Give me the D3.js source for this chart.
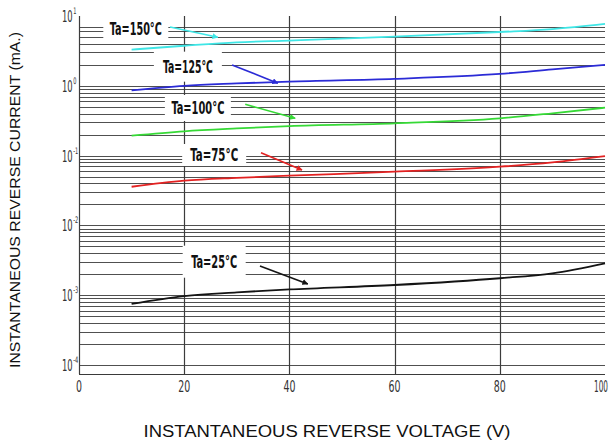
<!DOCTYPE html>
<html>
<head>
<meta charset="utf-8">
<script src="https://cdn.jsdelivr.net/npm/d3@7"></script>
<style>
  body { margin: 0; background: #fff; }
  svg { display: block; }
</style>
</head>
<body>
<div id="chart"></div>
<script>
"use strict";

// voltages where the curves were read (V)
var volts = [10, 20, 30, 40, 60, 80, 90, 100];

// reverse current in mA, one list per temperature
var ta150 = [3.3, 3.75, 4.2, 4.45, 5.05, 5.9, 6.5, 7.7];
var ta125 = [0.86, 1.0, 1.08, 1.15, 1.26, 1.48, 1.72, 1.99];
var ta100 = [0.193, 0.223, 0.245, 0.265, 0.29, 0.342, 0.404, 0.486];
var ta75  = [0.0358, 0.0437, 0.048, 0.0515, 0.0588, 0.0693, 0.080, 0.0986];
var ta25  = [0.00075, 0.00097, 0.0011, 0.00121, 0.0014, 0.00175, 0.00206, 0.00286];

var seriesNames  = ["Ta=150°C", "Ta=125°C", "Ta=100°C", "Ta=75°C", "Ta=25°C"];
var seriesColors = ["#3fe6e6", "#2b2bd6", "#36d936", "#e32222", "#141414"];

// label anchor (V, mA) and arrow from -> to (V, mA)
var labelAt   = [[10.8, 6.73], [20.7, 1.88], [22.6, 0.481], [25.7, 0.102], [25.7, 0.00302]];
var arrowFrom = [[17.3, 6.95], [29.1, 1.99], [31.6, 0.543], [34.6, 0.110], [34.4, 0.00262]];
var arrowTo   = [[26.4, 4.96], [37.8, 1.09], [41.1, 0.342], [42.4, 0.0622], [43.5, 0.00145]];

var xTicks = [0, 20, 40, 60, 80, 100];
var yDecades = [1, 0, -1, -2, -3, -4];

var width = 614, height = 445;

var x = d3.scaleLinear().domain([0, 100]).range([79, 605]);
var y = d3.scaleLog().domain([1e-4, 10]).range([365, 16]);

var svg = d3.select("#chart").append("svg")
  .attr("width", width)
  .attr("height", height);

// horizontal grid: 1..9 in each decade, top decade stops at 7
var hLines = [];
for (var e = -4; e <= 0; e++) {
  for (var k = 1; k <= 9; k++) {
    if (e === 0 && k > 7) continue;
    hLines.push(k * Math.pow(10, e));
  }
}

var grid = svg.append("g");
grid.selectAll("line.h")
  .data(hLines)
  .enter().append("line")
    .attr("x1", x(0)).attr("x2", x(100))
    .attr("y1", function(d) { return Math.round(y(d)) + 0.5; })
    .attr("y2", function(d) { return Math.round(y(d)) + 0.5; })
    .attr("stroke", "#505050")
    .attr("stroke-width", 1);

// bottom base line
grid.append("line")
  .attr("x1", x(0)).attr("x2", x(100))
  .attr("y1", 374.5).attr("y2", 374.5)
  .attr("stroke", "#3a3a3a");

grid.selectAll("line.v")
  .data(xTicks.slice(0, 5))
  .enter().append("line")
    .attr("x1", function(d) { return Math.round(x(d)) + 0.5; })
    .attr("x2", function(d) { return Math.round(x(d)) + 0.5; })
    .attr("y1", 16).attr("y2", 374)
    .attr("stroke", "#3c3c3c")
    .attr("stroke-width", 1.2);

// tick labels
var tickFont = "'DejaVu Sans Condensed', 'Liberation Sans Narrow', sans-serif";

svg.append("g").selectAll("text")
  .data(xTicks)
  .enter().append("text")
    .attr("x", function(d) { return d === 100 ? 608 : x(d); })
    .attr("y", 392)
    .attr("text-anchor", function(d) { return d === 100 ? "end" : "middle"; })
    .attr("font-family", tickFont)
    .attr("font-size", 15)
    .attr("fill", "#333")
    .attr("textLength", function(d) { return String(d).length === 3 ? 14 : String(d).length * 6; })
    .attr("lengthAdjust", "spacingAndGlyphs")
    .text(function(d) { return d; });

// y ticks: "10" with a raised exponent, squeezed horizontally
var yt = svg.append("g").selectAll("text")
  .data(yDecades)
  .enter().append("text")
    .attr("transform", function(d) {
      return "translate(62," + (y(Math.pow(10, d)) + 6) + ") scale(0.62,1)";
    })
    .attr("font-family", tickFont)
    .attr("font-size", 15)
    .attr("fill", "#333");

yt.append("tspan").text("10");
yt.append("tspan")
  .attr("dy", -8)
  .attr("dx", 1)
  .attr("font-size", 9)
  .text(function(d) { return d < 0 ? "-" + (-d) : d; });

// axis titles
svg.append("text")
  .attr("x", 327).attr("y", 437)
  .attr("text-anchor", "middle")
  .attr("font-family", "'Liberation Sans', Arial, sans-serif")
  .attr("font-size", 16)
  .attr("fill", "#111")
  .attr("textLength", 367)
  .attr("lengthAdjust", "spacingAndGlyphs")
  .text("INSTANTANEOUS REVERSE VOLTAGE (V)");

svg.append("text")
  .attr("transform", "translate(20,200) rotate(-90)")
  .attr("text-anchor", "middle")
  .attr("font-family", "'Liberation Sans', Arial, sans-serif")
  .attr("font-size", 15)
  .attr("fill", "#111")
  .attr("textLength", 336)
  .attr("lengthAdjust", "spacingAndGlyphs")
  .text("INSTANTANEOUS REVERSE CURRENT (mA.)");

// label boxes hide the grid behind the text
var boxW = [65, 68, 66, 64, 63];
var boxH = [22, 30, 26, 22, 32];

svg.append("g").selectAll("rect")
  .data(labelAt)
  .enter().append("rect")
    .attr("x", function(d, i) { return x(d[0]) - boxW[i] / 2; })
    .attr("y", function(d, i) { return y(d[1]) - boxH[i] / 2; })
    .attr("width", function(d, i) { return boxW[i]; })
    .attr("height", function(d, i) { return boxH[i]; })
    .attr("fill", "#fff");

// curves
var seriesVals = [ta150, ta125, ta100, ta75, ta25];
var line = d3.line()
  .x(function(d) { return x(d[0]); })
  .y(function(d) { return y(d[1]); })
  .curve(d3.curveMonotoneX);

svg.append("g").selectAll("path")
  .data(seriesVals)
  .enter().append("path")
    .attr("d", function(vals) {
      return line(vals.map(function(v, i) { return [volts[i], v]; }));
    })
    .attr("fill", "none")
    .attr("stroke", function(d, i) { return seriesColors[i]; })
    .attr("stroke-width", 1.8);

// arrows
var defs = svg.append("defs");
seriesColors.forEach(function(c, i) {
  defs.append("marker")
    .attr("id", "arr" + i)
    .attr("viewBox", "0 0 10 10")
    .attr("refX", 9).attr("refY", 5)
    .attr("markerWidth", 6).attr("markerHeight", 6)
    .attr("markerUnits", "userSpaceOnUse")
    .attr("orient", "auto")
    .append("path")
      .attr("d", "M0,0 L10,5 L0,10 z")
      .attr("fill", c);
});

svg.append("g").selectAll("line")
  .data(arrowFrom)
  .enter().append("line")
    .attr("x1", function(d) { return x(d[0]); })
    .attr("y1", function(d) { return y(d[1]); })
    .attr("x2", function(d, i) { return x(arrowTo[i][0]); })
    .attr("y2", function(d, i) { return y(arrowTo[i][1]); })
    .attr("stroke", function(d, i) { return seriesColors[i]; })
    .attr("stroke-width", 1.6)
    .attr("marker-end", function(d, i) { return "url(#arr" + i + ")"; });

// temperature labels
var textW = [52, 50, 53, 48, 46];
svg.append("g").selectAll("text")
  .data(labelAt)
  .enter().append("text")
    .attr("x", function(d) { return x(d[0]); })
    .attr("y", function(d) { return y(d[1]) + 6.5; })
    .attr("text-anchor", "middle")
    .attr("font-family", tickFont)
    .attr("font-weight", "bold")
    .attr("font-size", 17)
    .attr("fill", "#111")
    .attr("textLength", function(d, i) { return textW[i]; })
    .attr("lengthAdjust", "spacingAndGlyphs")
    .text(function(d, i) { return seriesNames[i]; });
</script>
</body>
</html>
